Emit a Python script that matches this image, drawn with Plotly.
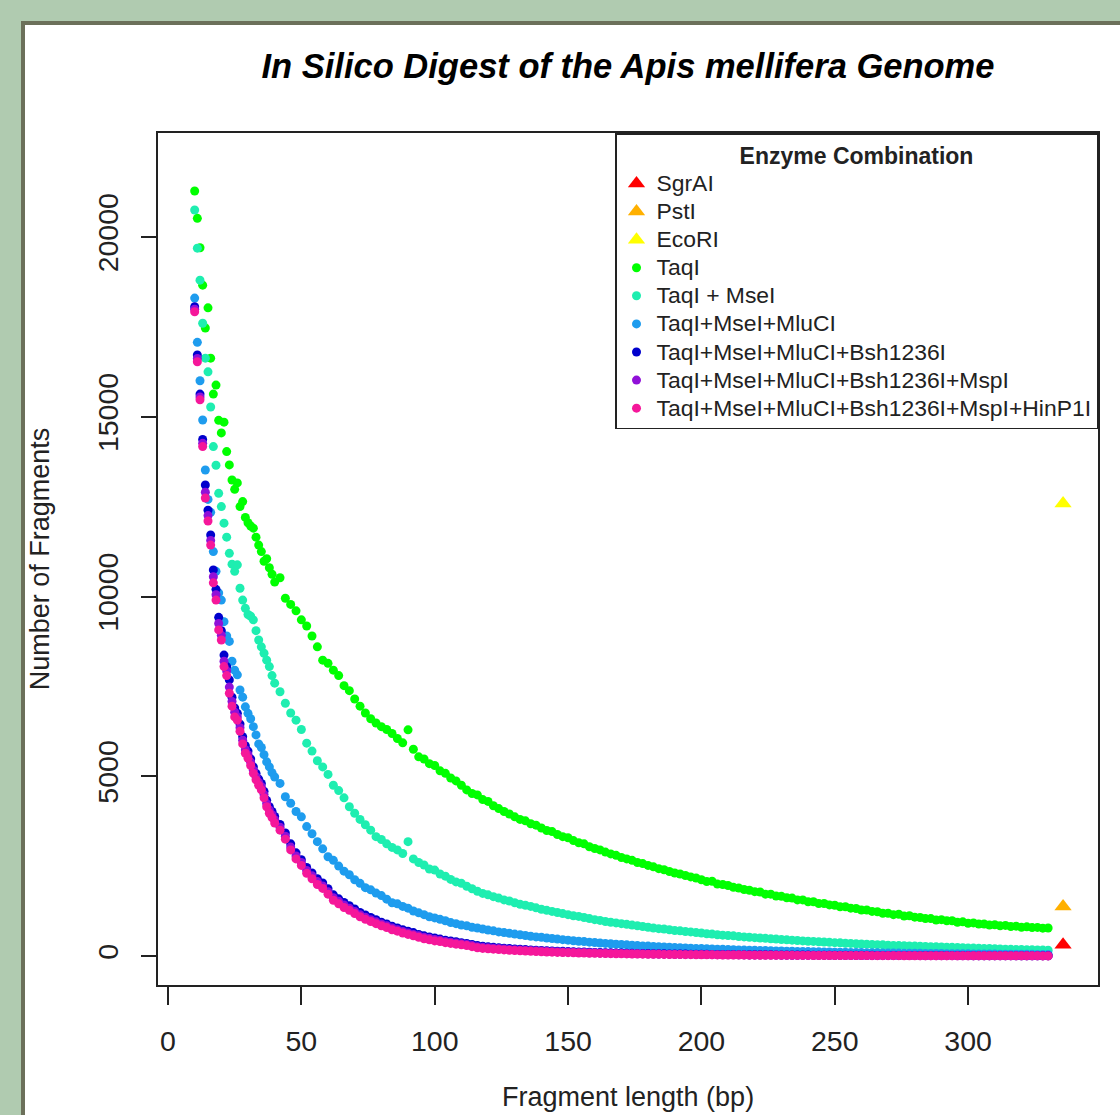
import plotly.graph_objects as go

# Fragment lengths (bp): every bp from 10 to 40, every 2 bp from 42 to 330
FRAG_LEN = list(range(10, 41)) + list(range(42, 331, 2))

TAQI = [
    21280, 20520, 19700, 18660, 17470, 18030, 16630, 15630, 15880, 14900,
    14550, 14850, 14030, 13660, 13240, 12980, 13160, 12500, 12640, 12200,
    12050, 11960, 11900, 11650, 11430, 11250, 10980, 11050, 10800, 10620,
    10400, 10520, 9950, 9780, 9600, 9350, 9180, 8900, 8600, 8230,
    8140, 7950, 7800, 7520, 7380, 7150, 6950, 6760, 6600, 6480,
    6380, 6300, 6190, 6050, 5930, 6290, 5750, 5540, 5480, 5350,
    5300, 5150, 5080, 4950, 4870, 4750, 4620, 4520, 4480, 4350,
    4300, 4180, 4100, 4020, 3950, 3870, 3800, 3760, 3680, 3640,
    3560, 3490, 3460, 3380, 3320, 3290, 3210, 3150, 3120, 3040,
    2990, 2950, 2890, 2840, 2800, 2740, 2700, 2660, 2600, 2570,
    2520, 2480, 2430, 2400, 2350, 2310, 2280, 2240, 2200, 2170,
    2120, 2070, 2080, 2000, 1990, 1960, 1910, 1890, 1850, 1830,
    1790, 1780, 1720, 1720, 1670, 1660, 1620, 1610, 1560, 1560,
    1510, 1510, 1460, 1460, 1420, 1410, 1370, 1370, 1330, 1320,
    1280, 1280, 1240, 1230, 1190, 1190, 1150, 1160, 1110, 1120,
    1080, 1070, 1040, 1040, 1000, 1010, 980, 980, 940, 950,
    910, 920, 890, 890, 860, 870, 840, 850, 820, 830,
    800, 810, 790, 795, 775, 780,
]

TAQI_MSEI = [
    20750, 19690, 18800, 17600, 16630, 16250, 15270, 14170, 13650, 12870,
    12500, 12040, 11650, 11200, 10900, 10700, 10880, 10230, 9900, 9670,
    9500, 9450, 9350, 9050, 8790, 8600, 8420, 8230, 8050, 7800,
    7590, 7350, 7030, 6760, 6560, 6300, 5920, 5700, 5430, 5260,
    5050, 4750, 4600, 4400, 4150, 3970, 3800, 3650, 3500, 3320,
    3240, 3120, 3020, 2950, 2850, 3180, 2700, 2600, 2530, 2420,
    2390, 2280, 2220, 2130, 2060, 2020, 1940, 1870, 1800, 1740,
    1700, 1650, 1610, 1560, 1530, 1480, 1440, 1410, 1380, 1340,
    1300, 1270, 1240, 1210, 1180, 1150, 1120, 1100, 1070, 1040,
    1010, 990, 960, 940, 920, 900, 880, 860, 840, 820,
    800, 780, 760, 750, 730, 710, 700, 680, 670, 650,
    640, 620, 610, 590, 580, 570, 560, 540, 530, 520,
    510, 500, 490, 480, 470, 460, 450, 440, 430, 420,
    410, 405, 395, 390, 380, 370, 365, 355, 350, 340,
    335, 330, 320, 315, 310, 300, 295, 290, 285, 280,
    275, 270, 265, 260, 255, 250, 245, 240, 235, 230,
    225, 220, 215, 210, 205, 200, 195, 190, 185, 180,
    178, 175, 172, 168, 165, 160,
]

TAQI_MSEI_MLUCI = [
    18300, 17070, 16000, 14910, 13520, 12700, 12340, 11250, 10700, 10100,
    9900, 9300, 8900, 8750, 8200, 7950, 7820, 7400, 7200, 6930,
    6750, 6600, 6380, 6150, 5900, 5800, 5600, 5400, 5260, 5100,
    4980, 4800, 4430, 4250, 4020, 3870, 3600, 3400, 3180, 2980,
    2760, 2660, 2500, 2360, 2260, 2120, 2020, 1900, 1840, 1750,
    1680, 1580, 1480, 1450, 1380, 1330, 1250, 1200, 1150, 1090,
    1060, 1020, 980, 930, 900, 860, 840, 800, 780, 750,
    720, 700, 670, 650, 630, 610, 590, 570, 550, 530,
    520, 500, 485, 470, 455, 440, 425, 410, 400, 385,
    375, 360, 350, 340, 330, 320, 310, 300, 290, 280,
    275, 265, 260, 250, 245, 235, 230, 225, 218, 210,
    205, 200, 195, 190, 185, 180, 175, 170, 165, 160,
    157, 153, 150, 146, 142, 138, 135, 132, 128, 125,
    122, 119, 116, 113, 110, 107, 105, 102, 100, 97,
    95, 93, 90, 88, 86, 84, 82, 80, 78, 76,
    75, 73, 71, 70, 68, 66, 65, 63, 62, 60,
    59, 57, 56, 55, 54, 52, 51, 50, 49, 48,
    47, 46, 45, 44, 43, 42,
]

TAQI_MSEI_MLUCI_BSH = [
    18060, 16720, 15630, 14370, 13100, 12400, 11710, 10740, 10200, 9420,
    9050, 8370, 8050, 7680, 7200, 6900, 6750, 6450, 6100, 5850,
    5700, 5480, 5260, 5080, 4920, 4800, 4580, 4330, 4150, 4020,
    3880, 3660, 3420, 3120, 2870, 2680, 2460, 2310, 2150, 2030,
    1870, 1700, 1590, 1490, 1400, 1310, 1210, 1140, 1070, 1010,
    940, 890, 830, 780, 730, 690, 650, 600, 560, 530,
    500, 470, 440, 420, 395, 370, 350, 320, 290, 270,
    255, 240, 230, 218, 205, 195, 186, 178, 170, 162,
    155, 148, 141, 135, 129, 124, 118, 113, 108, 104,
    100, 96, 92, 88, 85, 82, 78, 75, 72, 70,
    67, 65, 62, 60, 58, 56, 54, 52, 50, 48,
    47, 45, 44, 42, 41, 40, 38, 37, 36, 35,
    34, 33, 32, 31, 30, 29, 28, 27, 27, 26,
    25, 24, 24, 23, 22, 22, 21, 20, 20, 19,
    19, 18, 18, 17, 17, 16, 16, 15, 15, 15,
    14, 14, 13, 13, 13, 12, 12, 12, 11, 11,
    11, 10, 10, 10, 10, 9, 9, 9, 9, 8,
    8, 8, 8, 8, 7, 7,
]

TAQI_MSEI_MLUCI_BSH_MSPI = [
    17990, 16620, 15550, 14260, 12900, 12250, 11560, 10550, 10050, 9250,
    8920, 8200, 7930, 7480, 7080, 6780, 6650, 6350, 6000, 5740,
    5600, 5390, 5170, 4990, 4830, 4710, 4490, 4240, 4060, 3930,
    3790, 3580, 3330, 3030, 2780, 2600, 2380, 2230, 2070, 1950,
    1790, 1620, 1520, 1420, 1330, 1240, 1150, 1080, 1010, 950,
    890, 840, 780, 730, 680, 640, 600, 560, 520, 490,
    460, 435, 405, 385, 360, 340, 320, 290, 260, 240,
    228, 215, 205, 194, 182, 172, 165, 158, 150, 143,
    136, 130, 123, 117, 112, 108, 103, 98, 94, 90,
    87, 83, 80, 76, 73, 71, 68, 65, 62, 60,
    58, 56, 53, 51, 50, 48, 46, 44, 43, 41,
    40, 38, 37, 36, 35, 34, 32, 31, 30, 29,
    28, 27, 26, 25, 25, 24, 23, 22, 22, 21,
    20, 19, 19, 18, 18, 17, 17, 16, 16, 15,
    15, 14, 14, 13, 13, 12, 12, 12, 11, 11,
    11, 10, 10, 10, 10, 9, 9, 9, 8, 8,
    8, 8, 7, 7, 7, 7, 7, 6, 6, 6,
    6, 6, 5, 5, 5, 5,
]

TAQI_MSEI_MLUCI_BSH_MSPI_HINP1I = [
    17920, 16530, 15470, 14170, 12740, 12100, 11430, 10380, 9900, 9070,
    8790, 8050, 7800, 7310, 6950, 6650, 6560, 6250, 5900, 5640,
    5500, 5300, 5080, 4900, 4750, 4620, 4400, 4150, 3970, 3850,
    3700, 3500, 3250, 2950, 2700, 2520, 2300, 2150, 1990, 1880,
    1720, 1550, 1450, 1350, 1270, 1180, 1090, 1020, 960, 900,
    840, 790, 730, 690, 640, 600, 560, 520, 480, 450,
    420, 400, 370, 350, 330, 310, 290, 260, 230, 210,
    200, 190, 180, 170, 160, 150, 145, 138, 130, 125,
    118, 112, 106, 100, 96, 92, 88, 84, 80, 77,
    74, 71, 68, 65, 62, 60, 57, 55, 53, 51,
    49, 47, 45, 43, 42, 40, 38, 37, 36, 34,
    33, 32, 31, 30, 29, 28, 27, 26, 25, 24,
    23, 22, 21, 20, 20, 19, 18, 18, 17, 16,
    16, 15, 15, 14, 14, 13, 13, 12, 12, 11,
    11, 11, 10, 10, 10, 9, 9, 9, 8, 8,
    8, 8, 7, 7, 7, 7, 6, 6, 6, 6,
    6, 5, 5, 5, 5, 5, 5, 4, 4, 4,
    4, 4, 4, 4, 3, 3,
]

# single-enzyme digests (plotted as triangles at the right edge)
SINGLE_NAMES = ["SgrAI", "PstI", "EcoRI"]
SINGLE_X = [335.6, 335.6, 335.6]
SINGLE_Y = [310, 1380, 12590]
SINGLE_COLORS = ["#FF0000", "#FFB000", "#FFFF00"]

COMBO_NAMES = [
    "TaqI",
    "TaqI + MseI",
    "TaqI+MseI+MluCI",
    "TaqI+MseI+MluCI+Bsh1236I",
    "TaqI+MseI+MluCI+Bsh1236I+MspI",
    "TaqI+MseI+MluCI+Bsh1236I+MspI+HinP1I",
]
COMBO_VALUES = [TAQI, TAQI_MSEI, TAQI_MSEI_MLUCI, TAQI_MSEI_MLUCI_BSH,
                TAQI_MSEI_MLUCI_BSH_MSPI, TAQI_MSEI_MLUCI_BSH_MSPI_HINP1I]
COMBO_COLORS = ["#00FF00", "#1EEEB0", "#1E9CEE", "#0000CD", "#9010D8", "#F5179A"]

for vals in COMBO_VALUES:
    assert len(vals) == len(FRAG_LEN), (len(vals), len(FRAG_LEN))

FONT = "Liberation Sans, Arial, Helvetica, sans-serif"
LEG_TXT = '<span style="font-size:22.9px">{}</span>'

fig = go.Figure()

for name, xv, yv, col in zip(SINGLE_NAMES, SINGLE_X, SINGLE_Y, SINGLE_COLORS):
    fig.add_trace(go.Scatter(
        x=[xv], y=[yv], mode="markers", name=LEG_TXT.format(name),
        marker=dict(symbol="triangle-up", size=15, color=col, line=dict(width=0)),
    ))

for name, vals, col in zip(COMBO_NAMES, COMBO_VALUES, COMBO_COLORS):
    fig.add_trace(go.Scatter(
        x=FRAG_LEN, y=vals, mode="markers", name=LEG_TXT.format(name),
        marker=dict(symbol="circle", size=9, color=col, line=dict(width=0)),
    ))

# page layout in pixels -> paper coordinates
L, R, T, B = 158, 1098, 133, 985
W, H = 1120, 1115
def px_x(p):
    return (p - L) / (R - L)
def px_y(p):
    return (B - p) / (B - T)

fig.add_shape(type="rect", xref="paper", yref="paper",
              x0=px_x(23), x1=px_x(1140), y0=px_y(1140), y1=px_y(23),
              fillcolor="white", line=dict(color="#6c705a", width=4), layer="below")

# x-axis title placed as low as possible while staying fully visible
fig.add_annotation(
    text="Fragment length (bp)", xref="paper", yref="paper",
    x=0.5, y=px_y(1114), xanchor="center", yanchor="bottom",
    showarrow=False, font=dict(size=27, color="#222222", family=FONT),
)

fig.update_layout(
    width=W, height=H,
    autosize=False,
    margin=dict(l=L, r=W - R, t=T, b=H - B, pad=0, autoexpand=False),
    paper_bgcolor="#b0cbb0",
    plot_bgcolor="white",
    font=dict(family=FONT, color="#222222"),
    title=dict(
        text="<b><i>In Silico Digest of the Apis mellifera Genome</i></b>",
        x=0.5, xref="paper", xanchor="center",
        y=1 - 66 / H, yref="container", yanchor="middle",
        font=dict(size=34.5, color="#000000", family=FONT),
    ),
    showlegend=True,
    legend=dict(
        x=1, y=1, xanchor="right", yanchor="top",
        bgcolor="white", bordercolor="#222222", borderwidth=1.5,
        font=dict(size=19.3, color="#222222", family=FONT),
        title=dict(text="<b>Enzyme Combination</b>", side="top center",
                   font=dict(size=23, color="#222222", family=FONT)),
        itemclick=False, itemdoubleclick=False,
    ),
    xaxis=dict(
        range=[-3.75, 348.7], tickvals=[0, 50, 100, 150, 200, 250, 300],
        automargin=False,
        showgrid=False, zeroline=False,
        showline=True, mirror=True, linecolor="#222222", linewidth=1.5,
        ticks="outside", ticklen=18, tickwidth=1.5, tickcolor="#222222",
        tickfont=dict(size=28.5, color="#222222"), ticklabelstandoff=12,
    ),
    yaxis=dict(
        range=[-807, 22893], tickvals=[0, 5000, 10000, 15000, 20000],
        tickformat="d", automargin=False,
        showgrid=False, zeroline=False,
        showline=True, mirror=True, linecolor="#222222", linewidth=1.5,
        ticks="outside", ticklen=15, tickwidth=1.5, tickcolor="#222222",
        tickangle=-90, tickfont=dict(size=28.5, color="#222222"), ticklabelstandoff=12,
        title=dict(text="Number of Fragments", font=dict(size=27, color="#222222"),
                   standoff=34),
    ),
)

fig.write_html(
    "out.html",
    config={"displayModeBar": False},
    post_script="document.body.style.margin='0px';"
                "document.body.style.overflow='hidden';"
                "document.body.style.background='#b0cbb0';",
)
